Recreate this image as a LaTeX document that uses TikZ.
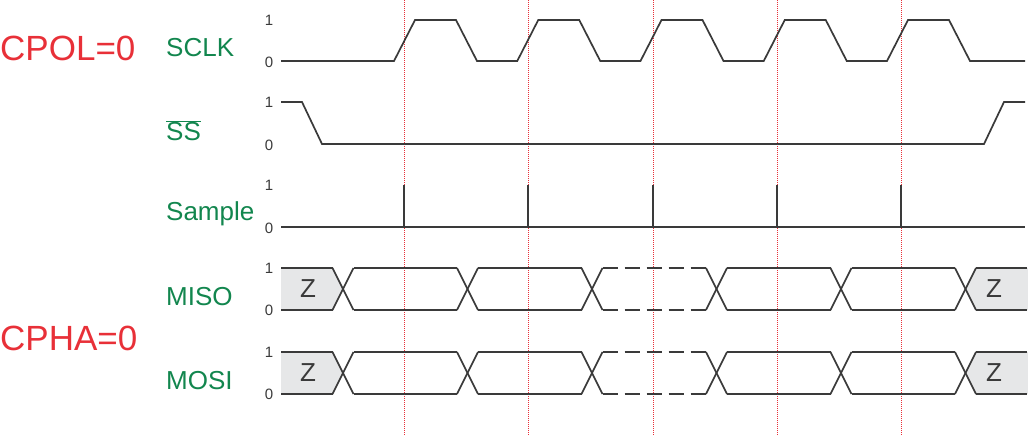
\documentclass[tikz,border=0pt]{standalone}
\usepackage{fontspec}
\setmainfont{Liberation Sans}
\definecolor{sigred}{RGB}{232,48,56}
\definecolor{siggreen}{RGB}{18,134,78}
\definecolor{wave}{RGB}{58,58,58}
\definecolor{zfill}{RGB}{230,231,232}
\tikzset{
  wv/.style={draw=wave,line width=1.7pt,line join=miter},
  rail/.style={wv},
  dashrail/.style={wv,dash pattern=on 15pt off 7pt},
  guide/.style={draw=sigred,line width=1pt,dash pattern=on 1pt off 1pt},
  big/.style={text=sigred,font=\fontsize{35}{40}\selectfont,inner sep=0pt,anchor=west},
  sig/.style={text=siggreen,font=\fontsize{26}{28}\selectfont,inner sep=0pt,anchor=west},
  tick/.style={text=wave,font=\fontsize{15}{17}\selectfont,inner sep=0pt},
  zlab/.style={text=wave,font=\fontsize{26}{28}\selectfont,inner sep=0pt},
}
\begin{document}
\begin{tikzpicture}[x=1pt,y=-1pt]
\useasboundingbox (0,0) rectangle (1028,436);
% guide lines
\foreach \gx in {404,528,653,777,901}{
  \draw[guide] (\gx,0) -- (\gx,436);
}
% big labels
\node[big] (cpol) at (0,48) {CPOL=0};
\node[big] (cpha) at (0,338) {CPHA=0};
% signal labels
\node[sig] (sclk) at (166,48) {SCLK};
\node[sig] (ss) at (166,131) {$\overline{\mbox{SS}}$};
\node[sig] (sample) at (166,214) {Sample};
\node[sig] (miso) at (166,297) {MISO};
\node[sig] (mosi) at (166,381) {MOSI};
% tick labels
\foreach \hi/\lo [count=\i] in {20/62,102/145,185/228,268/310,352/394}{
  \node[tick] (one\i) at (269,\hi) {1};
  \node[tick] (zero\i) at (269,\lo) {0};
}
% SCLK
\draw[wv] (281,61)
  \foreach \k in {0,...,4}{
    -- ({394+123.25*\k},61) -- ({415+123.25*\k},20) -- ({456+123.25*\k},20) -- ({477+123.25*\k},61)
  } -- (1025,61);
% SS
\draw[wv] (281,102) -- (302,102) -- (322,144) -- (984,144) -- (1004,102) -- (1025,102);
% Sample
\draw[wv] (281,227) -- (1025,227);
\foreach \gx in {404,528,653,777,901}{
  \draw[wv] (\gx,227) -- (\gx,185);
}
% buses
\foreach \T/\B/\nm in {268/310/misoz,352/394/mosiz}{
  \pgfmathsetmacro\M{(\T+\B)/2}
  \fill[zfill] (281,\T) -- (332.5,\T) -- (343,\M) -- (332.5,\B) -- (281,\B) -- cycle;
  \fill[zfill] (1028,\T) -- (976,\T) -- (965.5,\M) -- (976,\B) -- (1028,\B) -- cycle;
  \node[zlab] (\nm L) at (308,\M) {Z};
  \node[zlab] (\nm R) at (994,\M) {Z};
  \draw[wv] (281,\T) -- (332.5,\T);
  \draw[wv] (281,\B) -- (332.5,\B);
  \draw[wv] (976,\T) -- (1027,\T);
  \draw[wv] (976,\B) -- (1027,\B);
  \foreach \k in {0,...,5}{
    \pgfmathsetmacro\c{343+124.5*\k}
    \draw[wv] ({\c-10.5},\T) -- ({\c+10.5},\B);
    \draw[wv] ({\c-10.5},\B) -- ({\c+10.5},\T);
  }
  \foreach \k in {0,1,3,4}{
    \pgfmathsetmacro\c{343+124.5*\k}
    \draw[rail] ({\c+10.5},\T) -- ({\c+124.5-10.5},\T);
    \draw[rail] ({\c+10.5},\B) -- ({\c+124.5-10.5},\B);
  }
  \draw[dashrail] (602.5,\T) -- (706,\T);
  \draw[dashrail] (602.5,\B) -- (706,\B);
}
\end{tikzpicture}
\end{document}
